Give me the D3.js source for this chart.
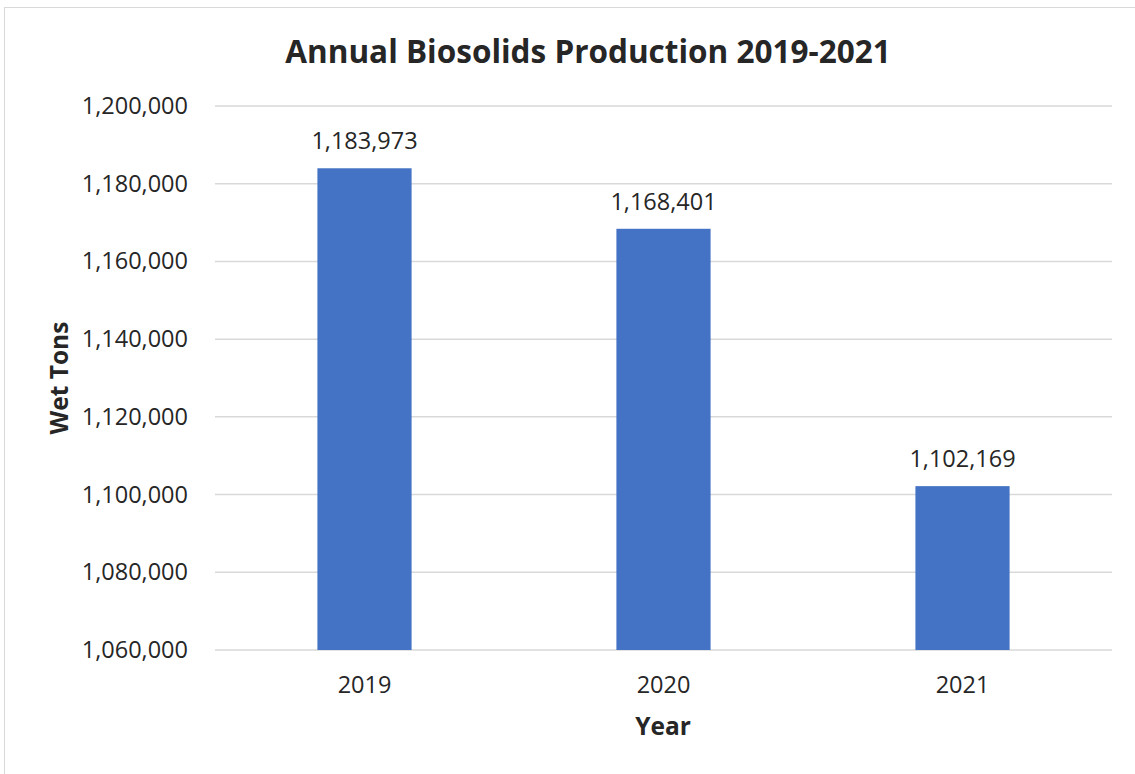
<!DOCTYPE html>
<html><head><meta charset="utf-8">
<script src="https://cdn.jsdelivr.net/npm/d3@7"></script>
<style>body{margin:0;background:#fff}svg{display:block}text{font-family:"Open Sans",Lato,sans-serif;fill:#262626}</style>
</head><body><svg id="c" width="1135" height="774"></svg>
<script>
const categories = ["2019", "2020", "2021"];
const values = [1183973, 1168401, 1102169];
const yTicks = [1060000, 1080000, 1100000, 1120000, 1140000, 1160000, 1180000, 1200000];
const title = "Annual Biosolids Production 2019-2021";
const xTitle = "Year";
const yTitle = "Wet Tons";

const svg = d3.select("#c");
const m = {left: 215, right: 1112, top: 106, bottom: 650};
svg.append("rect").attr("x", 4.5).attr("y", 7.5).attr("width", 1140).attr("height", 780)
  .attr("fill", "#fff").attr("stroke", "#d9d9d9").attr("stroke-width", 1);

const x = d3.scaleBand().domain(categories).range([m.left, m.right]).paddingInner(0.685).paddingOuter(0.3425);
const y = d3.scaleLinear().domain([1060000, 1200000]).range([m.bottom, m.top]);
const fmt = d3.format(",");

svg.append("g").selectAll("line").data(yTicks).join("line")
  .attr("x1", m.left).attr("x2", m.right)
  .attr("y1", d => y(d)).attr("y2", d => y(d))
  .attr("stroke", "#d9d9d9").attr("stroke-width", 1.5);

const yAxis = d3.axisLeft(y).tickValues(yTicks).tickFormat(fmt).tickSize(0).tickPadding(27);
const ya = svg.append("g").attr("transform", `translate(${m.left},0)`).call(yAxis);
ya.select(".domain").remove();
ya.selectAll("text").attr("font-size", 23.5).attr("font-family", "'Open Sans',sans-serif").attr("fill", "#262626");

svg.append("g").selectAll("rect").data(values).join("rect")
  .attr("x", (d, i) => x(categories[i])).attr("width", x.bandwidth())
  .attr("y", d => y(d)).attr("height", d => y(1060000) - y(d))
  .attr("fill", "#4472c4");

svg.append("g").selectAll("text").data(values).join("text")
  .attr("x", (d, i) => x(categories[i]) + x.bandwidth() / 2)
  .attr("y", d => y(d) - 19).attr("text-anchor", "middle").attr("font-size", 23.5)
  .text(d => fmt(d));

const xAxis = d3.axisBottom(x).tickSize(0).tickPadding(26);
const xa = svg.append("g").attr("transform", `translate(0,${m.bottom})`).call(xAxis);
xa.select(".domain").remove();
xa.selectAll("text").attr("font-size", 23.5).attr("font-family", "'Open Sans',sans-serif").attr("fill", "#262626");

svg.append("text").attr("x", 588).attr("y", 63).attr("text-anchor", "middle")
  .attr("font-size", 31.5).attr("font-weight", "bold").text(title);
svg.append("text").attr("x", 663).attr("y", 735).attr("text-anchor", "middle")
  .attr("font-size", 24.5).attr("font-weight", "bold").text(xTitle);
svg.append("text").attr("transform", "translate(68,378) rotate(-90)").attr("text-anchor", "middle")
  .attr("font-size", 24.5).attr("font-weight", "bold").text(yTitle);
</script></body></html>
